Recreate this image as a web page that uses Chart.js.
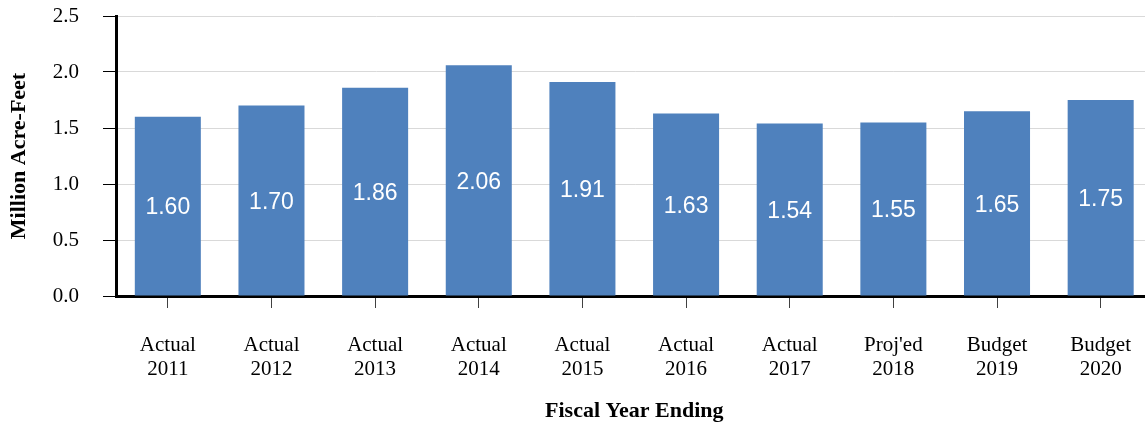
<!DOCTYPE html>
<html>
<head>
<meta charset="utf-8">
<script src="https://cdn.jsdelivr.net/npm/chart.js@4/dist/chart.umd.min.js"></script>
<style>
  html, body { margin: 0; padding: 0; background: #fff; overflow: hidden; }
  #wrap { position: relative; width: 1156px; height: 426px; }
</style>
</head>
<body>
<div id="wrap"><canvas id="chart"></canvas></div>
<script>
// Annual deliveries by fiscal year (million acre-feet)
const categories = [
  ['Actual', '2011'], ['Actual', '2012'], ['Actual', '2013'], ['Actual', '2014'],
  ['Actual', '2015'], ['Actual', '2016'], ['Actual', '2017'], ["Proj'ed", '2018'],
  ['Budget', '2019'], ['Budget', '2020']
];
const deliveries = [1.60, 1.70, 1.86, 2.06, 1.91, 1.63, 1.54, 1.55, 1.65, 1.75];
const yTickValues = [0.0, 0.5, 1.0, 1.5, 2.0, 2.5];

const SERIF = '"Liberation Serif", "DejaVu Serif", serif';
const SANS = '"Liberation Sans", Arial, sans-serif';

// Draws each bar's value centred inside the bar
const barValueLabels = {
  id: 'barValueLabels',
  afterDatasetsDraw(chart) {
    const ctx = chart.ctx;
    const meta = chart.getDatasetMeta(0);
    const values = chart.data.datasets[0].data;
    ctx.save();
    ctx.fillStyle = '#ffffff';
    ctx.font = '23px ' + SANS;
    ctx.textAlign = 'center';
    ctx.textBaseline = 'middle';
    meta.data.forEach((bar, i) => {
      const y = (bar.y + bar.base) / 2 + 2;
      ctx.fillText(values[i].toFixed(2), bar.x, y);
    });
    ctx.restore();
  }
};

new Chart(document.getElementById('chart'), {
  type: 'bar',
  data: {
    labels: categories,
    datasets: [{
      data: deliveries,
      backgroundColor: '#4f81bd',
      borderWidth: 0,
      barPercentage: 0.637,
      categoryPercentage: 1.0
    }]
  },
  options: {
    responsive: true,
    maintainAspectRatio: false,
    animation: false,
    layout: { padding: { top: 16, left: 0, right: 0, bottom: 0 } },
    plugins: {
      legend: { display: false },
      tooltip: { enabled: false }
    },
    scales: {
      x: {
        afterFit(scale) { scale.height = 130; },
        grid: {
          offset: false,
          drawOnChartArea: false,
          drawTicks: true,
          tickLength: 12,
          color: '#404040',
          lineWidth: 1
        },
        border: { color: '#000000', width: 3 },
        ticks: {
          color: '#000000',
          padding: 25,
          maxRotation: 0,
          autoSkip: false,
          font: { family: SERIF, size: 21, lineHeight: 1.15 }
        },
        title: {
          display: true,
          text: 'Fiscal Year Ending',
          color: '#000000',
          font: { family: SERIF, size: 22, weight: 'bold', lineHeight: 1.2 },
          padding: { top: 0, bottom: 1 }
        }
      },
      y: {
        min: 0,
        max: 2.5,
        afterFit(scale) { scale.width = 116; scale.paddingTop = 0; scale.paddingBottom = 0; },
        afterBuildTicks(scale) {
          scale.ticks = yTickValues.map(v => ({ value: v }));
        },
        grid: {
          color: '#d9d9d9',
          lineWidth: 1,
          tickLength: 13,
          tickColor: '#000000'
        },
        border: { color: '#000000', width: 3 },
        ticks: {
          color: '#000000',
          padding: 24,
          font: { family: SERIF, size: 21 },
          callback: v => Number(v).toFixed(1)
        },
        title: {
          display: true,
          text: 'Million Acre-Feet',
          color: '#000000',
          font: { family: SERIF, size: 22, weight: 'bold', lineHeight: 1.2 },
          padding: { top: 6, bottom: 0 }
        }
      }
    }
  },
  plugins: [barValueLabels]
});
</script>
</body>
</html>
